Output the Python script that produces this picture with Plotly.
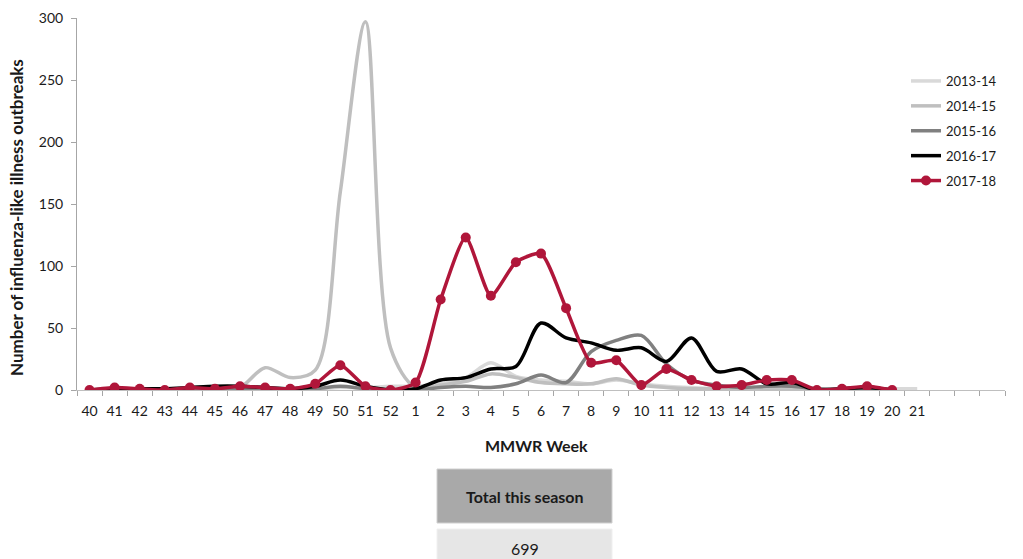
import plotly.graph_objects as go

WEEK_LABELS = ["40", "41", "42", "43", "44", "45", "46", "47", "48", "49", "50", "51", "52",
               "1", "2", "3", "4", "5", "6", "7", "8", "9", "10", "11", "12", "13", "14",
               "15", "16", "17", "18", "19", "20", "21", "", "", ""]

S_2013_14 = [0, 0, 0, 0, 1, 1, 1, 1, 1, 1, 2, 2, 3, 3, 5, 10, 22, 11, 8, 7, 5, 8, 5, 3, 2, 1, 1, 1, 1, 1, 1, 1, 1, 1]
S_2014_15 = [0, 0, 0, 0, 0, 1, 2, 18, 10, 16, 160, 297, 34, 2, 4, 7, 13, 10, 6, 5, 5, 9, 4, 2, 1, 1, 0, 0, 0, 0, 0, 0, 0]
S_2015_16 = [0, 0, 0, 0, 1, 1, 1, 1, 0, 1, 3, 1, 0, 0, 2, 3, 2, 5, 12, 6, 31, 40, 44, 21, 8, 4, 2, 3, 3, 1, 1, 1, 0]
S_2016_17 = [0, 1, 1, 1, 2, 3, 3, 2, 1, 3, 8, 3, 0, 1, 8, 10, 17, 19, 54, 42, 38, 32, 34, 23, 42, 15, 17, 5, 6, 0, 1, 2, 0]
S_2017_18 = [0, 2, 1, 0, 2, 1, 3, 2, 1, 5, 20, 3, 0, 6, 73, 123, 76, 103, 110, 66, 22, 24, 4, 17, 8, 3, 4, 8, 8, 0, 1, 3, 0]

TOTAL_THIS_SEASON = 699

SERIES = [
    ("2013-14", S_2013_14, "#d9d9d9"),
    ("2014-15", S_2014_15, "#bfbfbf"),
    ("2015-16", S_2015_16, "#808080"),
    ("2016-17", S_2016_17, "#000000"),
]

FONT = "Lato, 'Open Sans', sans-serif"
TXT = "#1a1a1a"

fig = go.Figure()
for name, vals, color in SERIES:
    fig.add_trace(go.Scatter(
        x=list(range(len(vals))), y=vals, name=name, mode="lines",
        line=dict(color=color, width=3.5, shape="spline", smoothing=0.9),
        legendgroup=name,
    ))
fig.add_trace(go.Scatter(
    x=list(range(len(S_2017_18))), y=S_2017_18, name="2017-18", mode="lines+markers",
    line=dict(color="#b0163a", width=3.5, shape="spline", smoothing=0.6),
    marker=dict(color="#b0163a", size=10),
    legendgroup="2017-18",
))

W, H = 1023, 559
L, R, T, B = 77, 18, 18, 169
pw, ph = W - L - R, H - T - B

def px(xp):
    return (xp - L) / pw

def py(yp):
    return (H - B - yp) / ph

fig.update_layout(
    width=W, height=H,
    margin=dict(l=L, r=R, t=T, b=B, pad=0, autoexpand=False),
    paper_bgcolor="white", plot_bgcolor="white",
    font=dict(family=FONT, size=14, color=TXT),
    showlegend=True,
    legend=dict(x=px(906), y=py(66), xanchor="left", yanchor="top",
                font=dict(size=13, color=TXT), tracegroupgap=5,
                bgcolor="rgba(0,0,0,0)", itemwidth=30),
    xaxis=dict(
        range=[-0.5, len(WEEK_LABELS) - 0.5], automargin=False,
        tickmode="array", tickvals=list(range(len(WEEK_LABELS))), ticktext=WEEK_LABELS,
        ticks="outside", ticklen=8, tickcolor="rgba(0,0,0,0)",
        showgrid=False, zeroline=False,
        showline=True, linecolor="#bfbfbf", linewidth=1,
        tickfont=dict(size=14, color=TXT),
        minor=dict(ticks="outside", ticklen=5, tick0=-0.5, dtick=1, tickcolor="#a6a6a6", showgrid=False),
    ),
    yaxis=dict(
        range=[0, 300], automargin=False, tickmode="array", tickvals=[0, 50, 100, 150, 200, 250, 300],
        ticks="outside", ticklen=5, tickcolor="#a6a6a6", ticklabelstandoff=5,
        showgrid=False, zeroline=False,
        showline=True, linecolor="#a6a6a6", linewidth=1,
        tickfont=dict(size=14, color=TXT),
    ),
)

# Axis titles
fig.add_annotation(xref="paper", yref="paper", x=px(536), y=py(445), text="<b>MMWR Week</b>",
                   showarrow=False, xanchor="center", yanchor="middle", font=dict(size=16, color=TXT))
fig.add_annotation(xref="paper", yref="paper", x=px(16), y=py(218),
                   text="<b>Number of influenza-like illness outbreaks</b>", textangle=-90,
                   showarrow=False, xanchor="center", yanchor="middle", font=dict(size=17, color=TXT))

# Summary table below chart
x0, x1 = px(437), px(612)
fig.add_shape(type="rect", xref="paper", yref="paper", x0=x0, x1=x1, y0=py(523), y1=py(469),
              fillcolor="#a9a9a9", line=dict(color="#d0d0d0", width=1), layer="above")
fig.add_shape(type="rect", xref="paper", yref="paper", x0=x0, x1=x1, y0=py(565), y1=py(529),
              fillcolor="#e6e6e6", line=dict(color="#f0f0f0", width=1), layer="above")
fig.add_annotation(xref="paper", yref="paper", x=(x0 + x1) / 2, y=py(496), text="<b>Total this season</b>",
                   showarrow=False, yanchor="middle", font=dict(size=16, color=TXT))
fig.add_annotation(xref="paper", yref="paper", x=(x0 + x1) / 2, y=py(548), text=str(TOTAL_THIS_SEASON),
                   showarrow=False, yanchor="middle", font=dict(size=16, color=TXT))

fig.write_html("out.html", config={"displayModeBar": False},
               post_script="document.body.style.margin='0';")
